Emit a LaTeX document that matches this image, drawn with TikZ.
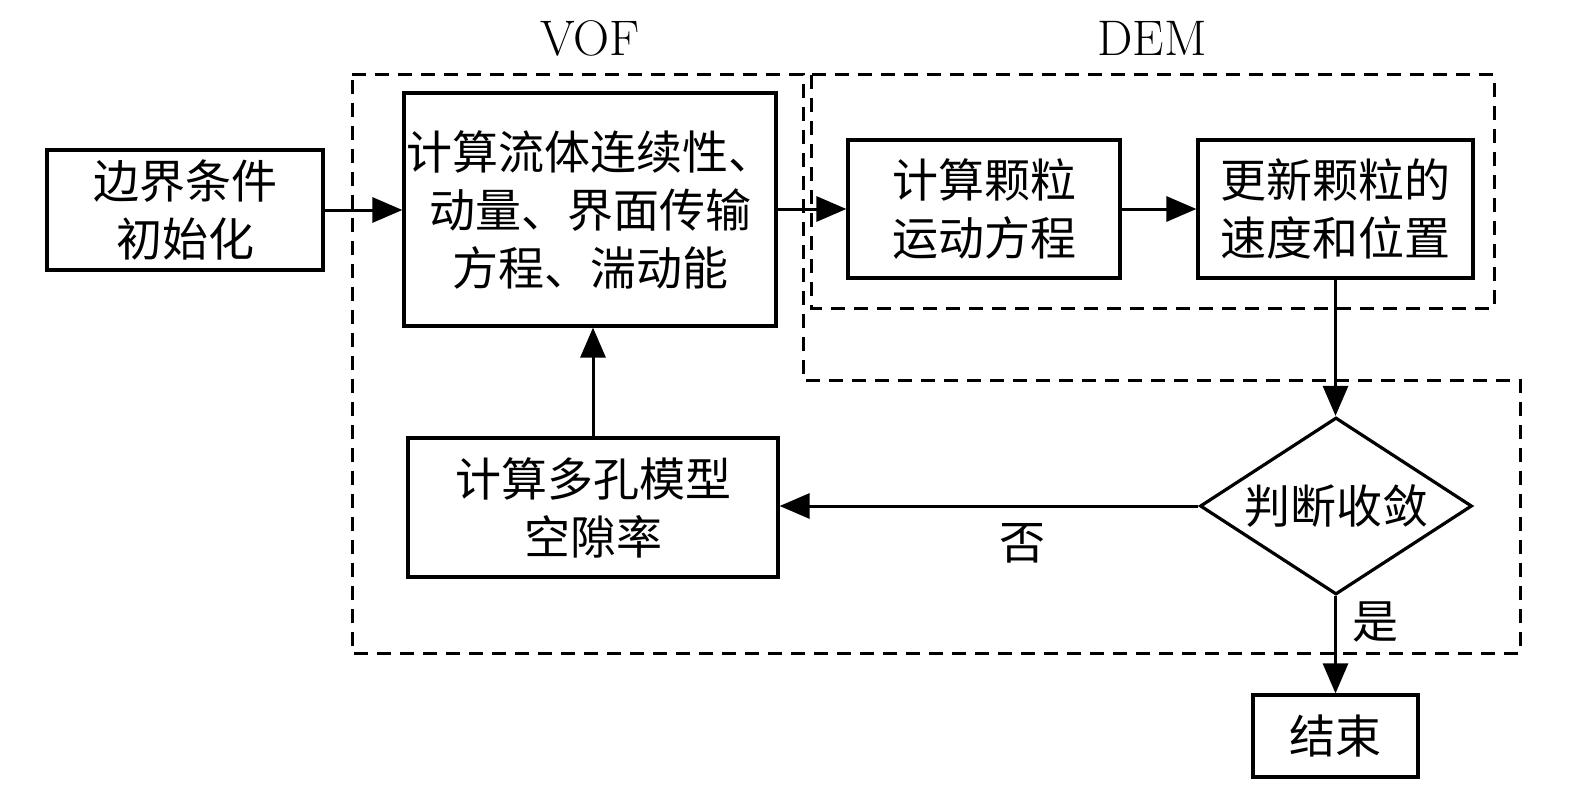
\documentclass[tikz,border=0pt]{standalone}
\usepackage{fontspec}
\newfontfamily\cjk{Noto Sans CJK SC}
\usetikzlibrary{arrows.meta,shapes.geometric}
\begin{document}
\begin{tikzpicture}[x=0.5pt,y=-0.5pt,
 box/.style={draw,line width=1.6pt,align=center,font=\cjk\fontsize{23}{29}\selectfont,inner sep=0pt},
 lbl/.style={font=\cjk\fontsize{23}{29}\selectfont,inner sep=0pt},
 ttl/.style={font=\fontsize{25}{28}\selectfont,inner sep=0pt},
 arr/.style={line width=1.5pt,-{Triangle[length=15pt,width=12.5pt]}},
 dsh/.style={line width=1.5pt,dash pattern=on 7pt off 4.5pt}]
\useasboundingbox (0,0) rectangle (1575,797);
% dashed regions
\draw[dsh] (352,75) -- (803,75) -- (803,380) -- (1520,380) -- (1520,653) -- (352,653) -- cycle;
\draw[dsh] (811,75) rectangle (1494,308);
% titles
\node[ttl] (tvof) at (590,38) {VOF};
\node[ttl] (tdem) at (1152,38) {DEM};
% nodes
\node[box,minimum width=138pt,minimum height=60pt] (init) at (185,210) {边界条件\\初始化};
\node[box,minimum width=186pt,minimum height=116.5pt] (vof) at (590,209.5) {计算流体连续性、\\动量、界面传输\\方程、湍动能};
\node[box,minimum width=136pt,minimum height=69pt] (p1) at (984,209) {计算颗粒\\运动方程};
\node[box,minimum width=137.5pt,minimum height=69pt] (p2) at (1335.5,209) {更新颗粒的\\速度和位置};
\node[box,diamond,aspect=1.54,minimum width=136pt,minimum height=88.5pt] (dia) at (1336,506) {判断收敛};
\node[box,minimum width=185pt,minimum height=69.5pt] (por) at (593,507.5) {计算多孔模型\\空隙率};
\node[box,minimum width=82.5pt,minimum height=41pt] (end) at (1335.5,736) {结束};
\node[lbl] (no) at (1022,543) {否};
\node[lbl] (yes) at (1375,622) {是};
% arrows
\draw[arr] (init.east) -- (init.east -| vof.west);
\draw[arr] (vof.east |- p1.west) -- (p1.west);
\draw[arr] (p1.east) -- (p2.west);
\draw[arr] (p2.south) -- (p2.south |- dia.north);
\draw[arr] (dia.west) -- (dia.west -| por.east);
\draw[arr] (por.north) -- (por.north |- vof.south);
\draw[arr] (dia.south -| end.north) -- (end.north);
\end{tikzpicture}
\end{document}
